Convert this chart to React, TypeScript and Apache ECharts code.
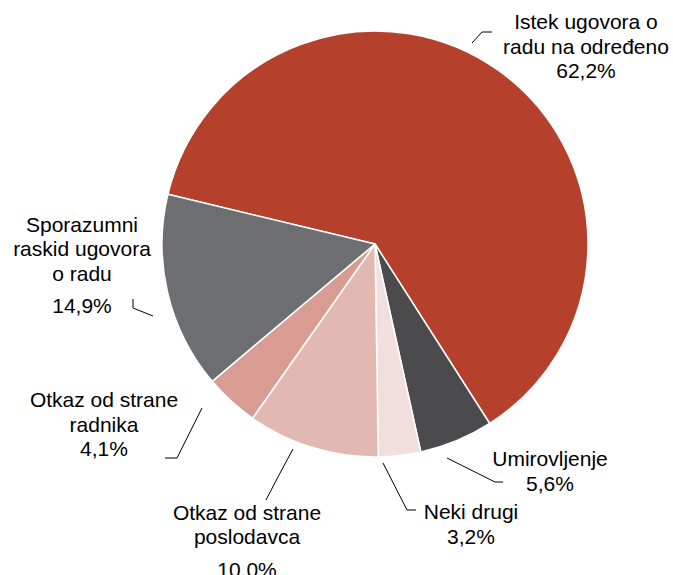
import React, { useEffect, useRef } from "react";
import * as echarts from "echarts";

const categories = [
  "Istek ugovora o\nradu na određeno",
  "Umirovljenje",
  "Neki drugi",
  "Otkaz od strane\nposlodavca",
  "Otkaz od strane\nradnika",
  "Sporazumni\nraskid ugovora\no radu",
];
const values = [62.2, 5.6, 3.2, 10.0, 4.1, 14.9];
const percentLabels = ["62,2%", "5,6%", "3,2%", "10.0%", "4,1%", "14,9%"];

const colors = ["#B5402B", "#4B4B4D", "#F2DEDC", "#E2B9B2", "#D89C92", "#6D6E71"];
// label block centers and leader lines (layout only)
const labelCenters: [number, number][] = [
  [586, 46],
  [550, 471],
  [471, 524],
  [247, 540],
  [104, 424],
  [82, 264],
];
const percentGap = [false, false, false, true, false, true];
const leaderLines: [number, number][][] = [
  [[472, 43], [482, 32], [492, 32]],
  [[447, 458], [495, 482], [503, 482]],
  [[383, 463], [407, 510], [416, 510]],
  [[293, 449], [279, 475], [266, 500]],
  [[202, 408], [177, 458], [165, 458]],
  [[153, 316], [133, 308], [133, 299]],
];

export default function App() {
  const ref = useRef<HTMLDivElement>(null);
  useEffect(() => {
    if (!ref.current) return;
    const chart = echarts.init(ref.current, null, { renderer: "svg" });
    chart.setOption({
      animation: false,
      backgroundColor: "#ffffff",
      series: [
        {
          type: "pie",
          center: [375, 244],
          radius: 213,
          startAngle: 166.5,
          clockwise: true,
          avoidLabelOverlap: false,
          itemStyle: { borderColor: "#ffffff", borderWidth: 1.5 },
          label: {
            show: true,
            position: "outside",
            fontFamily: "Liberation Sans, Arial, sans-serif",
            fontSize: 21,
            color: "#000",
            align: "center",
            formatter: (p: any) => {
              const i = p.dataIndex;
              const nm = categories[i]
                .split("\n")
                .map((s) => `{n|${s}}`)
                .join("\n");
              return `${nm}\n{${percentGap[i] ? "g" : "p"}|${percentLabels[i]}}`;
            },
            rich: {
              n: { fontSize: 21, lineHeight: 24.5, fontFamily: "Liberation Sans, Arial, sans-serif", color: "#000" },
              p: { fontSize: 21, lineHeight: 24.5, fontFamily: "Liberation Sans, Arial, sans-serif", color: "#000" },
              g: { fontSize: 21, lineHeight: 31, fontFamily: "Liberation Sans, Arial, sans-serif", color: "#000", verticalAlign: "bottom" },
            },
          },
          labelLine: {
            show: true,
            lineStyle: { color: "#000", width: 1 },
          },
          labelLayout: (params: any) => {
            const i = params.dataIndex;
            return {
              x: labelCenters[i][0],
              y: labelCenters[i][1],
              align: "center",
              verticalAlign: "middle",
              labelLinePoints: leaderLines[i],
            };
          },
          data: categories.map((name, i) => ({
            name,
            value: values[i],
            itemStyle: { color: colors[i] },
          })),
        },
      ],
    });
    return () => chart.dispose();
  }, []);
  return (
    <div
      ref={ref}
      style={{ position: "fixed", left: 0, top: 0, width: 673, height: 575 }}
    />
  );
}
